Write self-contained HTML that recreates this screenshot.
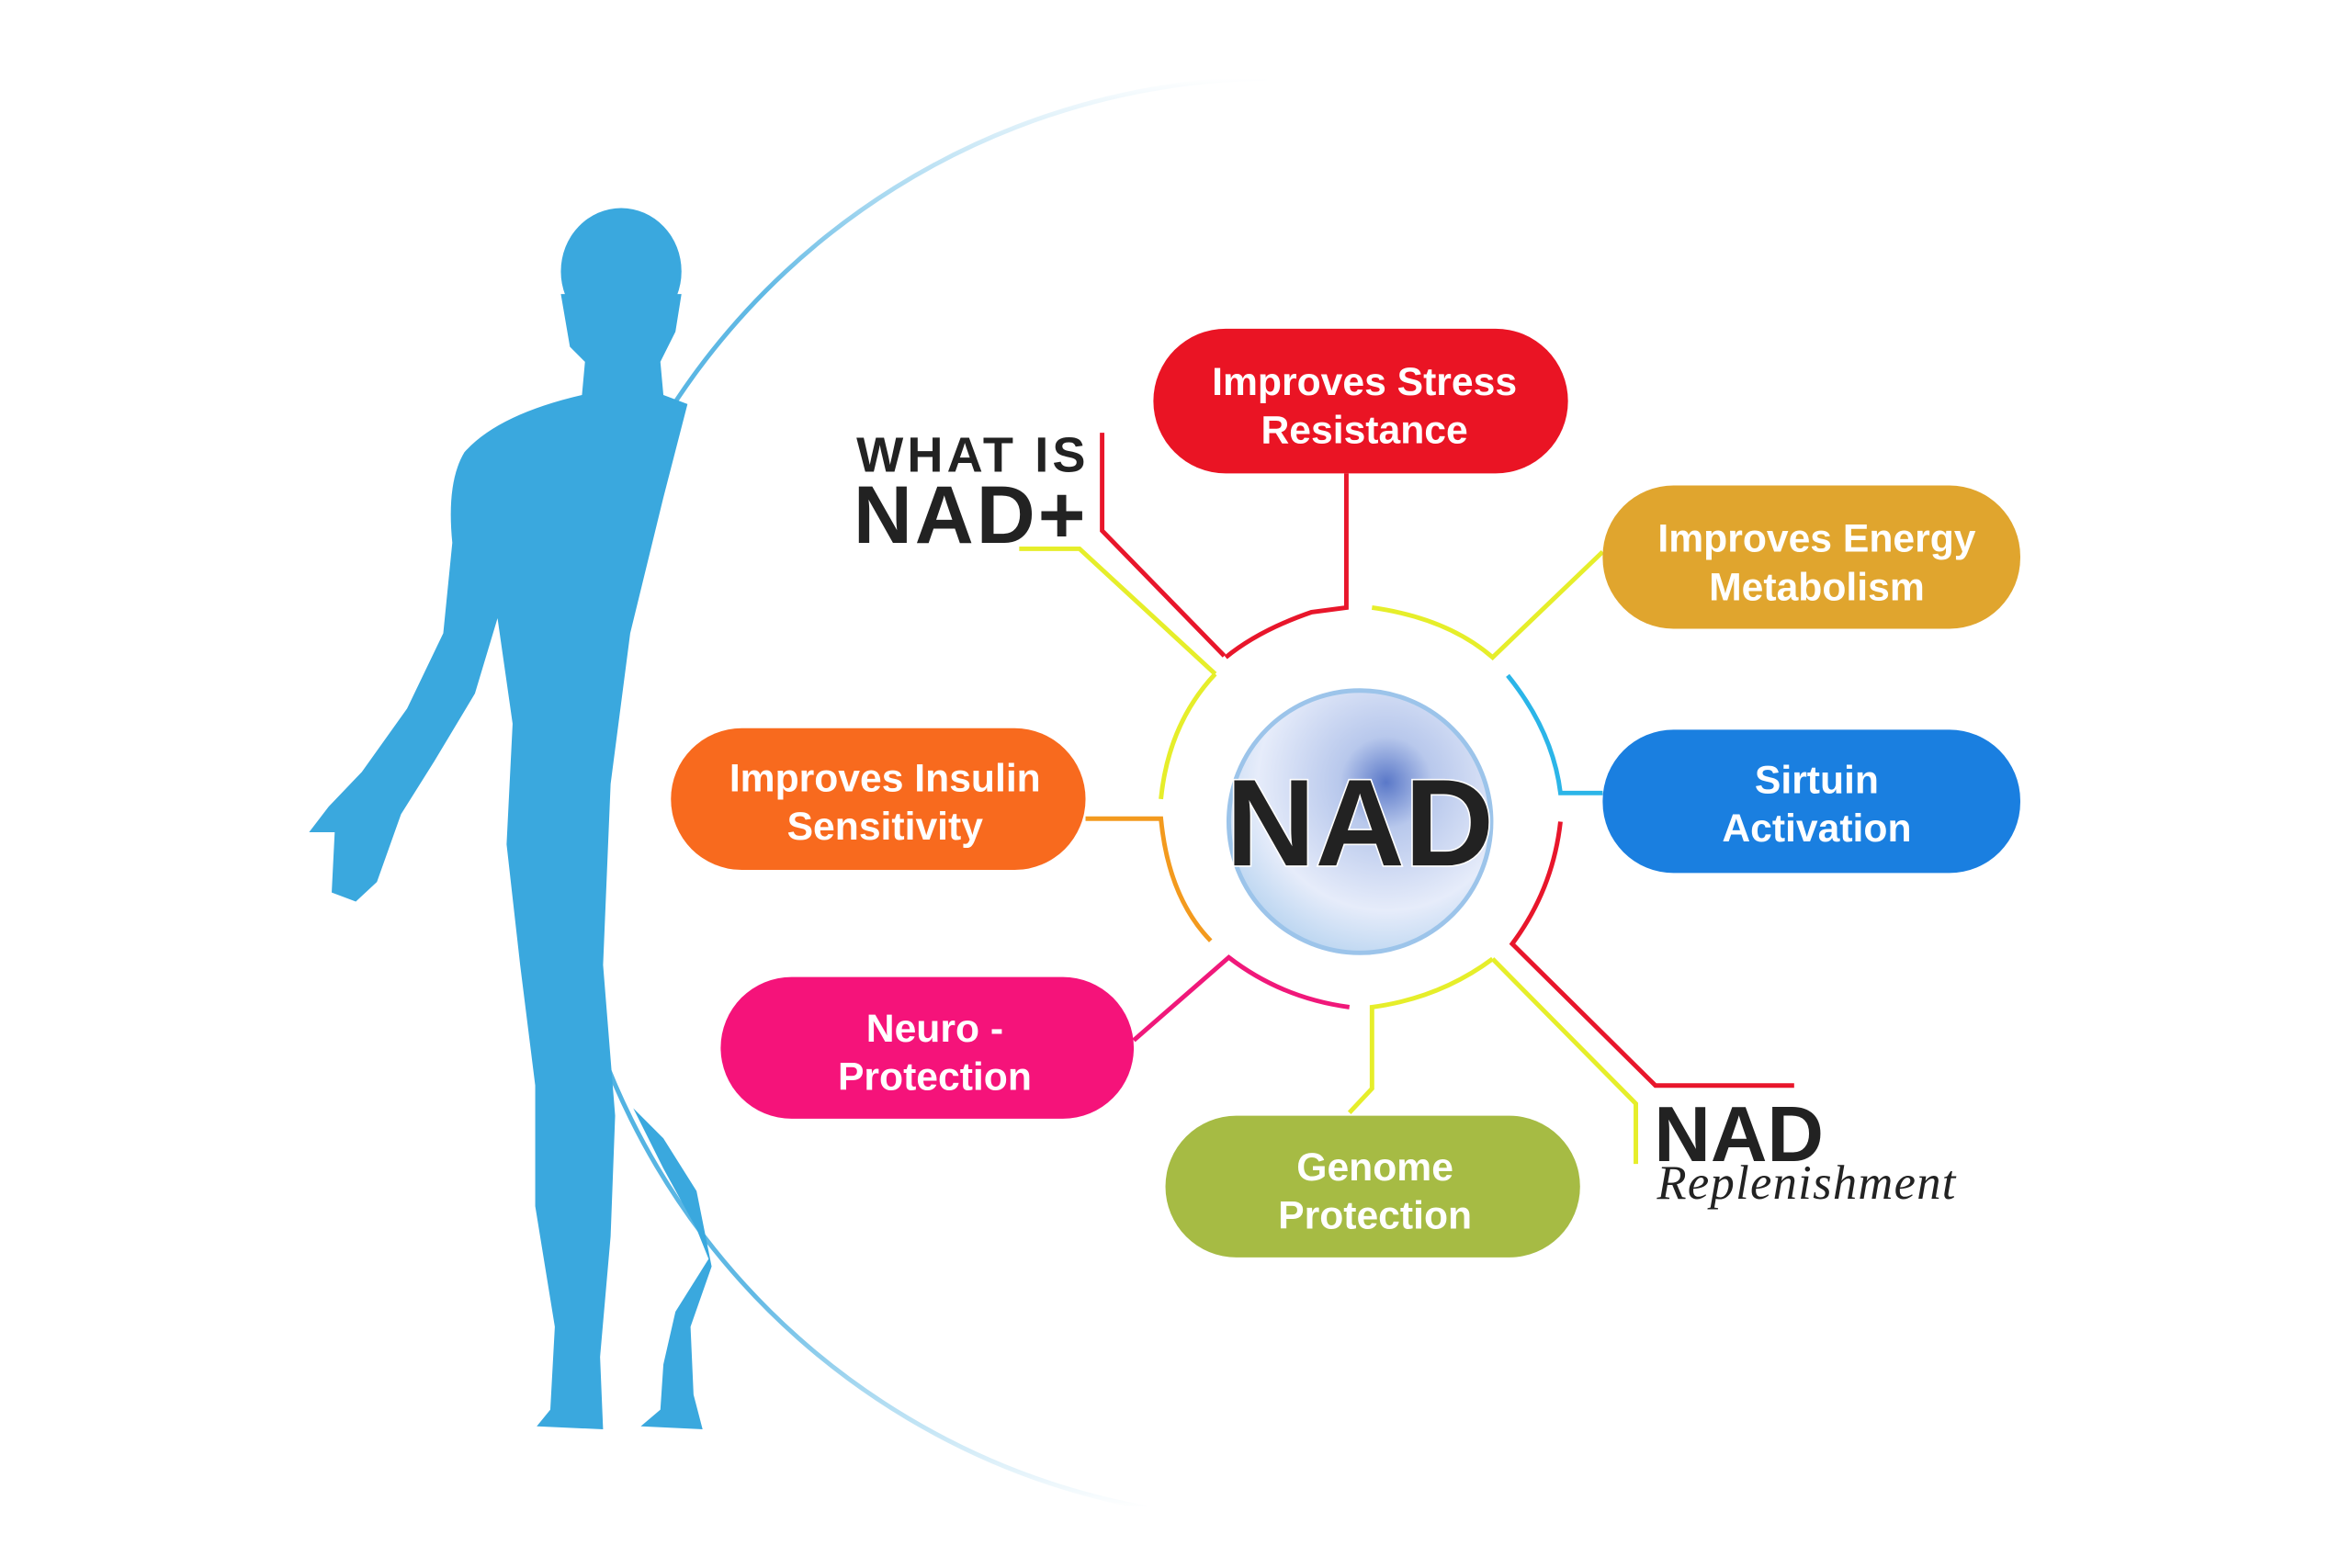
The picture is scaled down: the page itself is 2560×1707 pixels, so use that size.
<!DOCTYPE html>
<html><head><meta charset="utf-8"><style>
html,body{margin:0;padding:0;background:#fff;}
svg{display:block;}
.pt{font-family:"Liberation Sans",sans-serif;font-weight:bold;fill:#fff;font-size:26px;text-anchor:middle;}
</style></head><body>
<svg width="2560" height="1707" viewBox="0 0 1560 1040" preserveAspectRatio="none" xmlns="http://www.w3.org/2000/svg">
<defs>
<linearGradient id="arcg" x1="0" y1="0" x2="0" y2="1">
<stop offset="0" stop-color="#3aa8de" stop-opacity="0"/>
<stop offset="0.15" stop-color="#3aa8de" stop-opacity="0.8"/>
<stop offset="0.5" stop-color="#3aa8de"/>
<stop offset="0.85" stop-color="#3aa8de" stop-opacity="0.8"/>
<stop offset="1" stop-color="#3aa8de" stop-opacity="0"/>
</linearGradient>
<radialGradient id="sph" cx="0.6" cy="0.35" r="0.7">
<stop offset="0" stop-color="#5a78c8"/>
<stop offset="0.25" stop-color="#b8c8ec"/>
<stop offset="0.7" stop-color="#e6ecfa"/>
<stop offset="1" stop-color="#b8d4f0"/>
</radialGradient>
</defs>
<rect width="1560" height="1040" fill="#fff"/>
<path d="M 840,52 A 478 478 0 0 0 760,1000" fill="none" stroke="url(#arcg)" stroke-width="3"/>
<g fill="#3aa8de">
<ellipse cx="412" cy="180" rx="40" ry="42"/>
<path d="M 372,195 L 378,230 L 388,240 L 386,262 Q 330,275 308,300 Q 296,320 300,360 L 294,420 L 270,470 L 240,512 L 218,535 L 205,552 L 222,552 L 220,592 L 236,598 L 250,585 L 266,540 L 288,505 L 315,460 L 330,410 L 340,480 L 336,560 L 345,640 L 355,720 L 355,800 L 368,880 L 365,935 L 356,946 L 400,948 L 398,900 L 405,820 L 408,740 L 400,640 L 405,520 L 418,420 L 440,330 L 456,268 L 440,262 L 438,240 L 448,220 L 452,195 Z"/>
<path d="M 420,735 L 440,775 L 462,815 L 470,835 L 448,870 L 440,905 L 438,935 L 425,946 L 466,948 L 460,925 L 458,880 L 472,840 L 462,790 L 440,755 Z"/>
</g>
<g fill="none" stroke-width="3">
<path d="M 893,314 L 893,403 L 870,406 Q 835,418 813,436" stroke="#e8162b"/>
<path d="M 731,287 L 731,352 L 812,435" stroke="#e8162b"/>
<path d="M 676,364 L 716,364 L 806,447" stroke="#e6ee2a"/>
<path d="M 910,403 Q 960,410 990,436 L 1063,366" stroke="#e6ee2a"/>
<path d="M 1000,448 Q 1030,485 1035,526 L 1063,526" stroke="#2bb5e8"/>
<path d="M 1035,545 Q 1030,590 1003,626 L 1098,720 L 1190,720" stroke="#e8162b"/>
<path d="M 990,636 L 1085,732 L 1085,772" stroke="#e6ee2a"/>
<path d="M 990,636 Q 955,662 910,668 L 910,722 L 895,738" stroke="#e6ee2a"/>
<path d="M 752,690 L 815,635 Q 850,662 895,668" stroke="#f0187a"/>
<path d="M 720,543 L 770,543 Q 775,595 803,624" stroke="#f39a1e"/>
<path d="M 770,530 Q 775,480 806,447" stroke="#e6ee2a"/>
</g>
<circle cx="902" cy="545" r="87" fill="url(#sph)" stroke="#9cc4ea" stroke-width="3"/>
<text x="902" y="574" text-anchor="middle" font-family="Liberation Sans,sans-serif" font-weight="bold" font-size="82" fill="#222" stroke="#fff" stroke-width="2" paint-order="stroke">NAD</text>
<rect x="765" y="218" width="275" height="96" rx="48" fill="#ea1424"/>
<text class="pt" x="905" y="262">Improves Stress</text><text class="pt" x="905" y="294">Resistance</text>
<rect x="1063" y="322" width="277" height="95" rx="47" fill="#e0a52e"/>
<text class="pt" x="1205" y="366">Improves Energy</text><text class="pt" x="1205" y="398">Metabolism</text>
<rect x="1063" y="484" width="277" height="95" rx="47" fill="#1a7fe0"/>
<text class="pt" x="1205" y="526">Sirtuin</text><text class="pt" x="1205" y="558">Activation</text>
<rect x="445" y="483" width="275" height="94" rx="47" fill="#f86a1e"/>
<text class="pt" x="587" y="525">Improves Insulin</text><text class="pt" x="587" y="557">Sensitivity</text>
<rect x="478" y="648" width="274" height="94" rx="47" fill="#f5137a"/>
<text class="pt" x="620" y="691">Neuro -</text><text class="pt" x="620" y="723">Protection</text>
<rect x="773" y="740" width="275" height="94" rx="47" fill="#a6bb44"/>
<text class="pt" x="912" y="783">Genome</text><text class="pt" x="912" y="815">Protection</text>
<text x="568" y="313" font-family="Liberation Sans,sans-serif" font-weight="bold" font-size="33" fill="#222" textLength="152">WHAT IS</text>
<text x="566" y="360" font-family="Liberation Sans,sans-serif" font-weight="bold" font-size="54" fill="#222" textLength="154">NAD+</text>
<text x="1097" y="770" font-family="Liberation Sans,sans-serif" font-weight="bold" font-size="52" fill="#222">NAD</text>
<text x="1099" y="795" font-family="Liberation Serif,serif" font-style="italic" font-size="32" fill="#222" textLength="198">Replenishment</text>
</svg>
</body></html>
